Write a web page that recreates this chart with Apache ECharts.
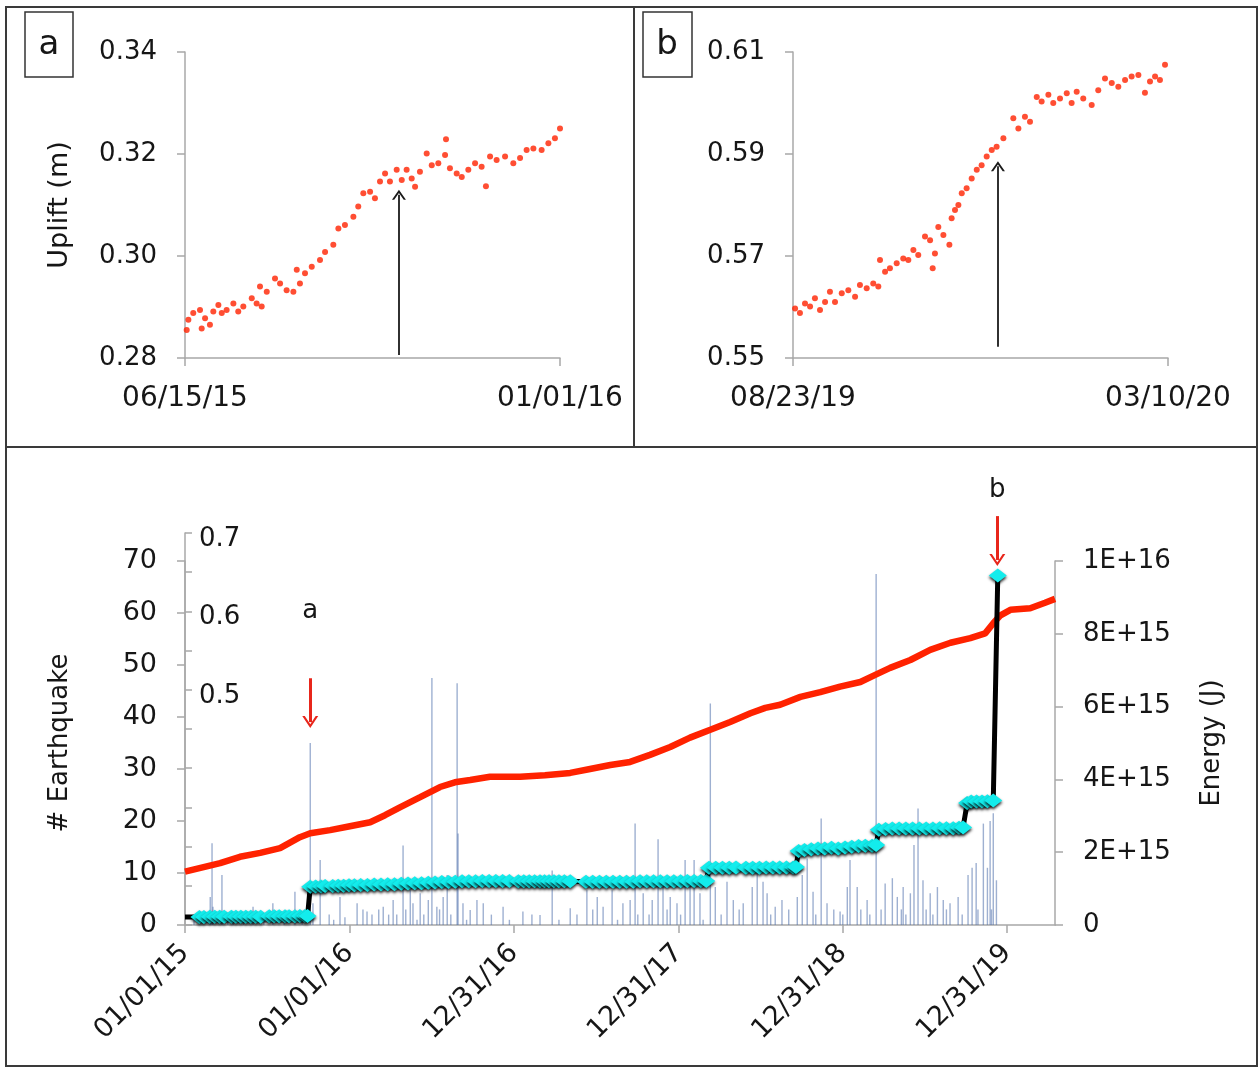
<!DOCTYPE html>
<html>
<head>
<meta charset="utf-8">
<script src="https://cdn.jsdelivr.net/npm/echarts@6/dist/echarts.min.js"></script>
<style>
  html, body { margin: 0; padding: 0; background: #fff; }
  #chart { width: 1260px; height: 1068px; }
</style>
</head>
<body>
<div id="chart"></div>
<script>
// panel a : uplift, days after 06/15/15
var aDays = [0.9,1.8,4.4,8,8.9,10.7,13.3,15.1,17.8,19.6,22.2,25.8,28.4,31.1,35.6,38.2,40,40.9,43.6,48,50.7,54.2,57.8,59.6,61.3,64,67.6,72,74.7,79.1,81.8,85.3,89.8,92.4,95.1,98.7,101.3,104,106.7,109.3,112.9,115.6,118.2,120.9,122.7,125.3,128.9,131.6,135.1,138.7,139.2,141.3,144.9,147.6,151.1,154.7,158.2,160.5,162.7,166.2,170.7,175.1,178.7,182.2,185.8,190.2,193.8,197.3,200];
var aUplift = [0.2855,0.2875,0.2888,0.2894,0.2858,0.2878,0.2865,0.2891,0.2904,0.2888,0.2894,0.2907,0.2891,0.2901,0.2917,0.2907,0.2940,0.2901,0.2930,0.2956,0.2946,0.2933,0.2930,0.2973,0.2946,0.2966,0.2979,0.2992,0.3008,0.3022,0.3054,0.3061,0.3077,0.3097,0.3123,0.3126,0.3113,0.3146,0.3162,0.3146,0.3169,0.3149,0.3169,0.3152,0.3136,0.3165,0.3201,0.3178,0.3182,0.3198,0.3229,0.3172,0.3162,0.3155,0.3169,0.3182,0.3175,0.3137,0.3195,0.3188,0.3195,0.3182,0.3192,0.3208,0.3211,0.3208,0.3221,0.3231,0.3250];
var aArrow = [114.1, 0.2806, 0.312];

// panel b : uplift, days after 08/23/19
var bDays = [1.1,3.7,6.4,9.1,11.7,14.4,17.1,19.7,22.4,26,29.5,33.1,35.7,39.3,42.8,45.5,46.4,49.1,51.7,55.3,58.8,61.5,64.2,66.8,70.4,73.1,74.5,75.7,77.5,80.2,83.4,84.6,86.4,88.2,90,92.6,95.3,98,100.6,103.3,106,108.6,112.2,117.5,120.2,123.7,126.4,130,132.6,136.2,138.8,142.4,146,148.6,151.3,154.8,159.3,162.8,166.4,170,173.5,177.1,180.6,184.2,187.7,190.4,193.1,195.7,198.4];
var bUplift = [0.5597,0.5588,0.5607,0.5601,0.5617,0.5594,0.5610,0.5630,0.5610,0.5627,0.5633,0.5620,0.5643,0.5637,0.5646,0.5640,0.5692,0.5669,0.5676,0.5686,0.5695,0.5692,0.5712,0.5702,0.5738,0.5731,0.5676,0.5705,0.5757,0.5741,0.5722,0.5774,0.5790,0.5800,0.5823,0.5833,0.5852,0.5869,0.5878,0.5895,0.5908,0.5914,0.5931,0.5970,0.5950,0.5973,0.5963,0.6012,0.6003,0.6016,0.6000,0.6009,0.6019,0.6000,0.6022,0.6009,0.5996,0.6025,0.6048,0.6039,0.6032,0.6045,0.6052,0.6055,0.6020,0.6042,0.6052,0.6045,0.6075];
var bArrow = [109.3, 0.5522, 0.5876];

// bottom panel, days after 01/01/15
var longDays = [0,78,122,167,211,233,255,278,322,366,411,444,477,522,566,599,633,677,744,799,855,899,944,988,1032,1077,1121,1166,1210,1255,1288,1321,1366,1410,1454,1499,1532,1565,1610,1654,1699,1743,1776,1794,1810,1832,1876,1909,1931];
var longUplift = [0.268,0.279,0.287,0.292,0.298,0.305,0.312,0.317,0.321,0.326,0.331,0.340,0.350,0.363,0.376,0.382,0.385,0.389,0.389,0.391,0.394,0.399,0.404,0.408,0.417,0.427,0.439,0.449,0.459,0.470,0.477,0.481,0.491,0.497,0.504,0.510,0.519,0.528,0.538,0.551,0.560,0.566,0.572,0.585,0.595,0.602,0.604,0.611,0.616];

var quakeDays = [56,60,62,82,107,151,195,244,278,284,300,344,355,382,404,440,462,484,500,506,522,540,548,559,573,582,604,606,617,633,648,662,706,750,788,815,855,892,915,928,948,972,988,999,1017,1037,1050,1061,1077,1092,1110,1121,1130,1143,1166,1177,1203,1217,1239,1259,1270,1283,1292,1310,1325,1359,1370,1381,1394,1412,1425,1454,1470,1476,1492,1514,1534,1554,1570,1581,1594,1610,1618,1627,1638,1654,1670,1683,1698,1716,1738,1747,1756,1772,1781,1787,1794,1801];
var quakeCounts = [5.4,15.7,3.5,9.6,1.9,3.5,4.2,6.4,35,4.2,12.5,5.4,1.5,4.2,2.6,3.5,4.8,15.3,6.7,4.2,6.1,4.8,47.5,3.5,5.4,9.6,46.5,17.6,4.2,2.9,4.8,4.2,3.5,2.6,1.9,10.5,3.2,6.7,5.4,3.5,6.7,4.2,4.8,19.5,6.1,4.8,16.5,7.3,5.4,4.2,12.5,8,12.5,6.1,42.6,7.3,8.3,4.8,4.2,7.3,10,8.3,6.1,3.5,4.8,5.4,9.6,12.8,6.4,20.5,4.2,2.6,7.3,12.5,7.3,4.8,67.5,8,9,5.4,7.3,6.1,15.4,22.4,8.6,6.1,7.3,4.8,4.2,5.4,9.6,11,11.9,19.5,11,20,21.5,8.6];
var minorDays = [20,95,130,175,220,260,320,330,395,415,430,452,470,490,515,530,565,590,625,680,720,770,830,870,905,960,1005,1030,1070,1100,1150,1190,1230,1300,1340,1400,1440,1460,1500,1520,1545,1590,1600,1645,1660,1690,1725,1760,1790];
var minorCounts = [1,2,1,1,2,1,2,1,3,2,3,2,2,3,1,2,3,2,1,2,1,2,1,2,3,1,2,2,3,2,1,2,3,2,3,2,3,2,3,2,3,3,2,3,2,3,2,3,3];

// cumulative energy, units of 1E+15 J
var energyDays = [0,32,42,55,66,77,87,103,113,124,135,146,157,168,187,198,209,222,231,244,255,266,272,
  278,290,302,311,328,340,352,364,376,390,405,420,435,450,465,480,495,510,525,540,555,570,585,600,615,630,645,660,675,690,705,720,740,752,764,776,788,798,808,819,830,842,855,890,905,920,935,950,965,980,995,1010,1025,1040,1055,1070,1085,1100,1115,1130,1145,1157,
  1163,1178,1193,1208,1223,1245,1260,1275,1290,1305,1320,1335,1350,1356,
  1362,1375,1390,1405,1420,1435,1450,1465,1480,1495,1510,1525,1534,
  1540,1555,1570,1585,1600,1615,1630,1645,1660,1675,1690,1705,1718,1727,
  1736,1745,1757,1769,1781,1794,1804];
var energyE15 = [0.22,0.22,0.22,0.23,0.23,0.23,0.23,0.23,0.23,0.23,0.23,0.23,0.23,0.23,0.24,0.24,0.24,0.24,0.24,0.24,0.25,0.25,0.25,
  1.05,1.06,1.06,1.07,1.07,1.08,1.08,1.09,1.09,1.1,1.1,1.11,1.11,1.12,1.12,1.13,1.14,1.15,1.15,1.16,1.17,1.18,1.18,1.19,1.2,1.2,1.2,1.21,1.21,1.21,1.21,1.21,1.2,1.2,1.2,1.2,1.2,1.2,1.2,1.2,1.2,1.2,1.2,1.19,1.19,1.19,1.19,1.19,1.19,1.19,1.19,1.2,1.2,1.2,1.2,1.2,1.2,1.2,1.21,1.21,1.21,1.21,
  1.57,1.57,1.57,1.57,1.58,1.57,1.57,1.57,1.58,1.58,1.58,1.58,1.58,1.59,
  2.03,2.06,2.08,2.1,2.1,2.12,2.1,2.13,2.15,2.17,2.18,2.18,2.2,
  2.62,2.64,2.65,2.65,2.65,2.65,2.65,2.65,2.65,2.66,2.66,2.66,2.67,2.68,
  3.35,3.39,3.39,3.39,3.4,3.42,9.6];

var longTicks = [0,365,730,1095,1460,1825];
var longMax = 1931;
var aTicks = [0.28,0.30,0.32,0.34];
var bTicks = [0.55,0.57,0.59,0.61];
var upliftTicks = [0.2,0.25,0.3,0.35,0.4,0.45,0.5,0.55,0.6,0.65,0.7];
var upliftLabels = [0.5,0.6,0.7];
// annotation arrows in bottom panel: [day, from, to, label y]
var markA = [278, 0.515, 0.459, 0.600];
var markB = [1803, 0.722, 0.666, 0.755];

var FONT = 'DejaVu Sans';
var GRAY = '#a8a8a8';
var TXT = '#161616';
var RED = '#ff2200';
var CHEVRON = 'path://M0,10 L5,0 L10,10 L8.4,10 L5,3.2 L1.6,10 Z';

function fmtDate(base, d) {
  var t = new Date(Date.UTC(base[0], base[1] - 1, base[2]) + Math.round(d) * 86400000);
  var p = function (n) { return ('0' + n).slice(-2); };
  return p(t.getUTCMonth() + 1) + '/' + p(t.getUTCDate()) + '/' + p(t.getUTCFullYear() % 100);
}
function zip(xs, ys, k) {
  var out = [];
  for (var i = 0; i < xs.length; i++) out.push([xs[i], ys[i] * (k || 1)]);
  return out;
}

var energyData = zip(energyDays, energyE15, 1e15);
energyData[0] = { value: energyData[0], symbol: 'none' };

var chart = echarts.init(document.getElementById('chart'));

function panelX(idx, base) {
  return {
    gridIndex: idx, type: 'value', min: 0, max: 200,
    axisLine: { lineStyle: { color: GRAY, width: 1.5 } },
    axisTick: { customValues: [0, 200], length: 8, lineStyle: { color: GRAY, width: 1.5 } },
    axisLabel: { customValues: [0, 200], margin: 27, fontSize: 28, color: TXT, fontFamily: FONT,
      formatter: function (v) { return fmtDate(base, v); } },
    splitLine: { show: false }
  };
}
function panelY(idx, min, max, ticks) {
  return {
    gridIndex: idx, type: 'value', min: min, max: max,
    axisLine: { show: true, lineStyle: { color: GRAY, width: 1.5 } },
    axisTick: { show: true, customValues: ticks, length: 8, lineStyle: { color: GRAY, width: 1.5 } },
    axisLabel: { customValues: ticks, margin: 28, fontSize: 26, color: TXT, fontFamily: FONT,
      formatter: function (v) { return v.toFixed(2); } },
    splitLine: { show: false }
  };
}
function arrowLine(day, y0, y1, color, width, size) {
  return {
    silent: true, animation: false,
    symbol: ['none', CHEVRON], symbolSize: size,
    lineStyle: { color: color, width: width, type: 'solid' },
    label: { show: false },
    emphasis: { disabled: true },
    data: [[{ coord: [day, y0] }, { coord: [day, y1] }]]
  };
}

var option = {
  animation: false,
  backgroundColor: '#fff',
  textStyle: { fontFamily: FONT },
  grid: [
    { left: 185, top: 52, width: 375, height: 306 },
    { left: 793, top: 52, width: 375, height: 306 },
    { left: 185, top: 561, width: 870, height: 364 },
    { left: 185, top: 533, width: 870, height: 392 },
    { left: 185, top: 455, width: 870, height: 470 }
  ],
  xAxis: [
    panelX(0, [2015, 6, 15]),
    panelX(1, [2019, 8, 23]),
    {
      gridIndex: 2, type: 'value', min: 0, max: longMax,
      axisLine: { lineStyle: { color: GRAY, width: 1.5 } },
      axisTick: { customValues: longTicks, length: 8, lineStyle: { color: GRAY, width: 1.5 } },
      axisLabel: { customValues: longTicks, rotate: 45, margin: 24, fontSize: 27, color: TXT, fontFamily: FONT,
        formatter: function (v) { return fmtDate([2015, 1, 1], v); } },
      splitLine: { show: false }
    },
    { gridIndex: 3, type: 'value', min: 0, max: longMax, show: false },
    { gridIndex: 4, type: 'value', min: 0, max: longMax, show: false }
  ],
  yAxis: [
    Object.assign(panelY(0, 0.28, 0.34, aTicks), {
      name: 'Uplift (m)', nameLocation: 'middle', nameGap: 112, nameRotate: 90,
      nameTextStyle: { fontSize: 27, color: TXT, fontFamily: FONT }
    }),
    panelY(1, 0.55, 0.61, bTicks),
    {
      gridIndex: 2, type: 'value', min: 0, max: 70, interval: 10,
      name: '# Earthquake', nameLocation: 'middle', nameGap: 112, nameRotate: 90,
      nameTextStyle: { fontSize: 26, color: TXT, fontFamily: FONT },
      axisLine: { show: true, lineStyle: { color: GRAY, width: 1.5 } },
      axisTick: { show: true, length: 8, lineStyle: { color: GRAY, width: 1.5 } },
      axisLabel: { margin: 28, fontSize: 27, color: TXT, fontFamily: FONT },
      splitLine: { show: false }
    },
    {
      gridIndex: 2, type: 'value', position: 'right', min: 0, max: 1e16, interval: 2e15,
      name: 'Energy (J)', nameLocation: 'middle', nameGap: 144, nameRotate: 90,
      nameTextStyle: { fontSize: 26, color: TXT, fontFamily: FONT },
      axisLine: { show: true, lineStyle: { color: GRAY, width: 1.5 } },
      axisTick: { show: true, length: 8, lineStyle: { color: GRAY, width: 1.5 } },
      axisLabel: { margin: 28, fontSize: 26, color: TXT, fontFamily: FONT,
        formatter: function (v) {
          if (v === 0) return '0';
          var e = Math.floor(Math.log10(v) + 1e-9);
          return Math.round(v / Math.pow(10, e)) + 'E+' + e;
        } },
      splitLine: { show: false }
    },
    {
      gridIndex: 3, type: 'value', min: 0.2, max: 0.7,
      axisLine: { show: true, lineStyle: { color: GRAY, width: 1.5 } },
      axisTick: { show: true, inside: true, customValues: upliftTicks, length: 7, lineStyle: { color: GRAY, width: 1.5 } },
      axisLabel: { inside: true, customValues: upliftLabels, margin: 14, color: TXT, fontFamily: FONT,
        rich: { v: { fontSize: 26, fontFamily: FONT, color: TXT, padding: [12, 0, 0, 0] } },
        formatter: function (v) { return '{v|' + v.toFixed(1) + '}'; } },
      splitLine: { show: false }
    },
    { gridIndex: 4, type: 'value', min: 0.2, max: 0.8, show: false }
  ],
  series: [
    {
      type: 'scatter', xAxisIndex: 0, yAxisIndex: 0,
      data: zip(aDays, aUplift), symbolSize: 6, itemStyle: { color: RED },
      markLine: arrowLine(aArrow[0], aArrow[1], aArrow[2], '#1a1a1a', 1.8, [14, 10])
    },
    {
      type: 'scatter', xAxisIndex: 1, yAxisIndex: 1,
      data: zip(bDays, bUplift), symbolSize: 6, itemStyle: { color: RED },
      markLine: arrowLine(bArrow[0], bArrow[1], bArrow[2], '#1a1a1a', 1.8, [14, 10])
    },
    {
      type: 'bar', xAxisIndex: 2, yAxisIndex: 2,
      data: zip(quakeDays.concat(minorDays), quakeCounts.concat(minorCounts)),
      barWidth: 1.4, itemStyle: { color: 'rgba(78,112,172,0.55)' }
    },
    {
      type: 'line', xAxisIndex: 3, yAxisIndex: 4,
      data: zip(longDays, longUplift), showSymbol: false, symbol: 'none',
      lineStyle: { color: RED, width: 6.5 }
    },
    {
      type: 'line', xAxisIndex: 2, yAxisIndex: 3,
      data: energyData, symbol: 'diamond', symbolSize: [18, 14], showAllSymbol: true,
      lineStyle: { color: '#000', width: 5 },
      itemStyle: { color: '#13ecec', shadowColor: 'rgba(0,0,0,0.85)', shadowBlur: 3, shadowOffsetY: 2 }
    },
    {
      type: 'scatter', xAxisIndex: 4, yAxisIndex: 5, data: [],
      markLine: {
        silent: true, animation: false,
        symbol: ['none', CHEVRON], symbolSize: [16, 12],
        lineStyle: { color: '#e8261b', width: 3, type: 'solid' },
        label: { show: false },
        data: [
          [{ coord: [markA[0], markA[1]] }, { coord: [markA[0], markA[2]] }],
          [{ coord: [markB[0], markB[1]] }, { coord: [markB[0], markB[2]] }]
        ]
      },
      markPoint: {
        silent: true, animation: false,
        symbol: 'circle', symbolSize: 1, itemStyle: { color: 'rgba(0,0,0,0)' },
        label: { show: true, position: 'inside', fontSize: 26, color: TXT, fontFamily: FONT,
          formatter: function (p) { return p.name; } },
        data: [
          { name: 'a', coord: [markA[0], markA[3]] },
          { name: 'b', coord: [markB[0], markB[3]] }
        ]
      }
    }
  ],
  graphic: [
    { type: 'rect', shape: { x: 6, y: 7, width: 1251, height: 1059 }, style: { fill: 'none', stroke: '#3a3a3a', lineWidth: 2 } },
    { type: 'line', shape: { x1: 6, y1: 447, x2: 1257, y2: 447 }, style: { stroke: '#3a3a3a', lineWidth: 2 } },
    { type: 'line', shape: { x1: 634, y1: 7, x2: 634, y2: 447 }, style: { stroke: '#3a3a3a', lineWidth: 2 } },
    { type: 'rect', shape: { x: 25, y: 12, width: 48, height: 65 }, style: { fill: '#fff', stroke: '#333', lineWidth: 1.5 } },
    { type: 'text', x: 49, y: 45, style: { text: 'a', font: '34px "DejaVu Sans"', fill: TXT, align: 'center', verticalAlign: 'middle' } },
    { type: 'rect', shape: { x: 643, y: 12, width: 49, height: 65 }, style: { fill: '#fff', stroke: '#333', lineWidth: 1.5 } },
    { type: 'text', x: 667, y: 45, style: { text: 'b', font: '34px "DejaVu Sans"', fill: TXT, align: 'center', verticalAlign: 'middle' } }
  ]
};

chart.setOption(option);
</script>
</body>
</html>
